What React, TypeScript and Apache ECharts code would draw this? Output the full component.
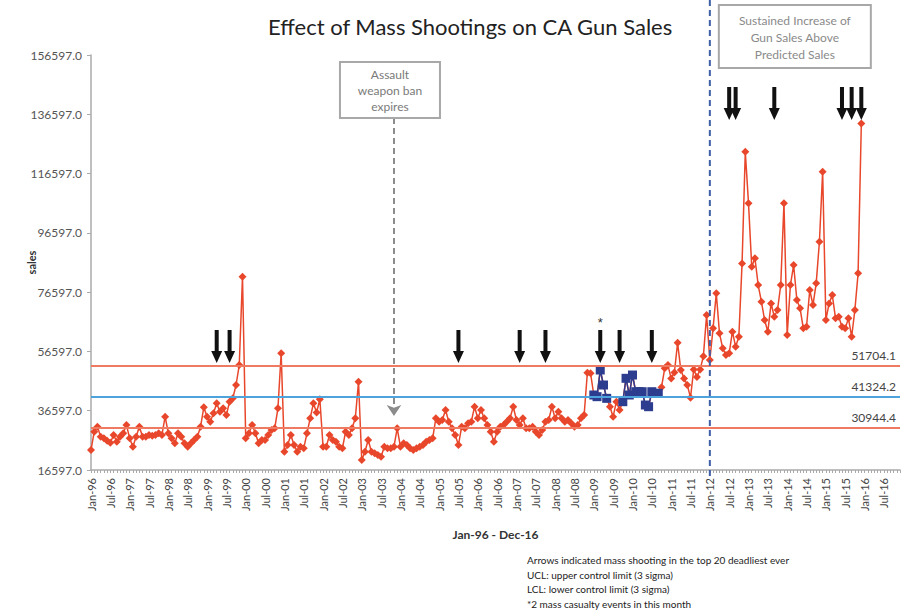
import React, { useEffect, useRef } from "react";
import * as echarts from "echarts";

// ---------- data ----------
const monthNames = ["Jan", "Feb", "Mar", "Apr", "May", "Jun", "Jul", "Aug", "Sep", "Oct", "Nov", "Dec"];
const years = [96, 97, 98, 99, 0, 1, 2, 3, 4, 5, 6, 7, 8, 9, 10, 11, 12, 13, 14, 15, 16];
const categories: string[] = [];
years.forEach((y) => monthNames.forEach((m) => categories.push(`${m}-${String(y).padStart(2, "0")}`)));

const sales1996 = [23340, 29520, 31210, 27830, 27270, 26490, 25810, 28400, 26150, 27830, 28960, 31780];
const sales1997 = [27270, 24460, 27830, 31210, 27830, 27830, 28400, 28170, 28400, 28960, 28400, 34590];
const sales1998 = [28960, 27270, 25590, 28960, 27830, 25590, 24460, 25590, 26720, 27830, 31210, 37740];
const sales1999 = [34590, 32900, 35710, 39080, 36270, 37410, 35150, 39650, 40770, 45270, 52010, 81800];
const sales2000 = [27270, 28960, 31780, 28960, 25590, 26720, 26720, 28400, 30090, 30650, 37410, 55950];
const sales2001 = [22780, 25030, 28400, 25030, 22780, 24460, 23900, 28960, 34030, 39080, 36000, 40500];
const sales2002 = [24460, 24460, 28400, 26720, 26150, 24460, 23900, 29520, 28400, 30650, 34030, 46380];
const sales2003 = [19970, 22780, 26720, 22780, 22220, 21660, 21100, 24460, 23900, 23900, 24460, 30650];
const sales2004 = [24460, 25600, 25000, 23900, 23340, 23900, 24460, 25000, 26150, 26720, 27280, 34030];
const sales2005 = [32890, 33460, 36830, 32890, 30660, 28400, 25000, 31200, 30660, 32340, 32890, 37950];
const sales2006 = [34030, 36830, 34030, 31780, 29520, 26150, 29520, 31200, 31780, 32890, 34030, 37950];
const sales2007 = [33460, 31780, 34030, 30660, 30660, 31200, 29520, 28400, 30090, 32890, 33460, 37950];
const sales2008 = [34030, 36270, 34030, 32890, 33460, 32340, 31200, 31780, 34030, 35150, 49420, 49200];
const sales2009 = [41900, 41330, 50330, 45270, 40770, 37950, 34590, 39640, 36830, 39640, 47530, 41900];
const sales2010 = [48640, 43010, 43010, 43010, 38520, 37950, 43010, 42460, 42460, 44500, 50900, 52000];
const sales2011 = [47500, 49500, 59500, 50300, 47500, 45300, 41000, 50500, 48000, 50500, 55000, 68900];
const sales2012 = [53700, 64380, 76200, 62700, 57630, 55390, 55950, 63250, 58190, 61560, 86300, 123960];
const sales2013 = [106550, 85170, 88000, 79000, 73370, 67190, 63250, 72800, 68300, 70570, 79000, 106550];
const sales2014 = [62130, 79000, 85740, 73940, 71130, 64380, 64940, 77310, 72250, 79570, 93600, 117220];
const sales2015 = [67190, 72800, 75620, 67750, 68300, 64940, 64380, 67750, 61560, 70570, 82950, 133500];

const sales = [
  ...sales1996, ...sales1997, ...sales1998, ...sales1999, ...sales2000, ...sales2001, ...sales2002,
  ...sales2003, ...sales2004, ...sales2005, ...sales2006, ...sales2007, ...sales2008, ...sales2009,
  ...sales2010, ...sales2011, ...sales2012, ...sales2013, ...sales2014, ...sales2015,
];

// months drawn as blue squares
const blueMonths = [
  "Jan-09", "Feb-09", "Mar-09", "Apr-09", "May-09",
  "Oct-09", "Nov-09", "Dec-09", "Jan-10", "Feb-10", "Mar-10", "Apr-10", "May-10", "Jun-10", "Jul-10", "Aug-10", "Sep-10",
];

const UCL = 51704.1;
const CL = 41324.2;
const LCL = 30944.4;

const yTicks = { min: 16597, max: 156597, step: 20000 };

// arrows: mass shootings
const lowArrowMonths = ["Apr-99", "Aug-99", "Jul-05", "Feb-07", "Oct-07", "Mar-09", "Sep-09", "Jul-10"];
const highArrowMonths = ["Jul-12", "Sep-12", "Sep-13", "Jun-15", "Sep-15", "Dec-15"];
const lowArrowTip = 52700;
const highArrowTip = 134650;
const starMonth = "Mar-09";

const awbMonth = "Nov-03";
const awbArrowTop = 135330;
const awbArrowTip = 34800;
const sustainedMonth = "Jan-12";

const footnotes = [
  "Arrows indicated mass shooting in the top 20 deadliest ever",
  "UCL: upper control limit (3 sigma)",
  "LCL: lower control limit (3 sigma)",
  "*2 mass casualty events in this month",
];

// ---------- styles ----------
const RED = "#E8472B";
const LIMIT_RED = "#EF7A62";
const CL_BLUE = "#4DA3DC";
const SQ_BLUE = "#2C3C8E";
const FONT = "Lato, 'Open Sans', sans-serif";
const ARROW = "path://M3.5,0 L7.5,0 L7.5,21 L11,21 L5.5,33 L0,21 L3.5,21 Z";

export default function App() {
  const ref = useRef<HTMLDivElement>(null);

  useEffect(() => {
    if (!ref.current) return;
    const chart = echarts.init(ref.current, null, { renderer: "svg" });

    const blueIdx = new Set(blueMonths.map((m) => categories.indexOf(m)));
    const redData = sales.map((v, i) => (blueIdx.has(i) ? { value: v, symbol: "none" } : v));
    const blueData = sales.map((v, i) => (blueIdx.has(i) ? v : null));

    const arrowPoint = (m: string, tip: number) => ({
      coord: [m, tip],
      symbol: ARROW,
      symbolSize: [11, 33],
      symbolOffset: [0, "-50%"],
      itemStyle: { color: "#111" },
      label:
        m === starMonth && tip === lowArrowTip
          ? { show: true, position: "top", formatter: "*", color: "#333", fontSize: 13, distance: 1 }
          : { show: false },
    });

    const limitLine = (value: number, name: string, color: string) => [
      {
        yAxis: value,
        lineStyle: { color, width: 2, type: "solid" },
        label: {
          show: true,
          position: "insideEndTop",
          formatter: value.toFixed(1),
          color: "#444",
          fontSize: 12,
          fontFamily: FONT,
          distance: 4,
        },
      },
      {
        yAxis: value,
        lineStyle: { color, width: 0, opacity: 0 },
        label: {
          show: true,
          position: "insideStartTop",
          formatter: name,
          color: "#333",
          fontSize: 12,
          fontFamily: FONT,
          distance: 4,
        },
      },
    ];

    chart.setOption({
      animation: false,
      backgroundColor: "#fff",
      title: {
        text: "Effect of Mass Shootings on CA Gun Sales",
        left: 263,
        top: 10,
        textStyle: { fontSize: 22, fontWeight: "normal", color: "#222", fontFamily: FONT },
      },
      grid: { left: 91, right: 3, top: 55, bottom: 146, containLabel: false },
      xAxis: {
        type: "category",
        data: categories,
        boundaryGap: false,
        name: "Jan-96 - Dec-16",
        nameLocation: "middle",
        nameGap: 58,
        nameTextStyle: { fontWeight: "bold", fontSize: 12, color: "#333", fontFamily: FONT },
        axisLine: { lineStyle: { color: "#aaa", width: 1.5 } },
        axisTick: { show: true, interval: 0, length: 3, lineStyle: { color: "#aaa" } },
        axisLabel: { interval: 5, rotate: 90, fontSize: 11, color: "#444", fontFamily: FONT, margin: 8 },
        splitLine: { show: false },
      },
      yAxis: {
        type: "value",
        min: yTicks.min,
        max: yTicks.max,
        interval: yTicks.step,
        name: "sales",
        nameLocation: "middle",
        nameGap: 54,
        nameMoveOverlap: false,
        nameRotate: 90,
        nameTextStyle: { fontWeight: "bold", fontSize: 11, color: "#333", fontFamily: FONT },
        axisLine: { show: true, lineStyle: { color: "#aaa", width: 1.5 } },
        axisTick: { show: true, length: 4, lineStyle: { color: "#aaa" } },
        axisLabel: {
          formatter: (v: number) => v.toFixed(1),
          fontSize: 12,
          color: "#555",
          fontFamily: FONT,
          margin: 9,
        },
        splitLine: { show: false },
      },
      series: [
        {
          type: "line",
          name: "limits",
          data: [],
          silent: true,
          markLine: {
            silent: true,
            symbol: "none",
            data: [
              ...limitLine(UCL, "UCL", LIMIT_RED),
              ...limitLine(CL, "CL", CL_BLUE),
              ...limitLine(LCL, "LCL", LIMIT_RED),
            ],
          },
          z: 1,
        },
        {
          type: "line",
          name: "awb",
          data: [],
          silent: true,
          markLine: {
            silent: true,
            symbol: ["none", "arrow"],
            symbolSize: 11,
            label: { show: false },
            lineStyle: { color: "#8c8c8c", width: 2, type: [6, 4] },
            data: [[{ coord: [awbMonth, awbArrowTop] }, { coord: [awbMonth, awbArrowTip] }]],
          },
          z: 1,
        },
        {
          type: "line",
          name: "sales",
          data: redData,
          showAllSymbol: true,
          symbol: "diamond",
          symbolSize: 8,
          itemStyle: { color: RED },
          lineStyle: { color: RED, width: 1.5 },
          z: 3,
          markPoint: {
            silent: true,
            data: [
              ...lowArrowMonths.map((m) => arrowPoint(m, lowArrowTip)),
              ...highArrowMonths.map((m) => arrowPoint(m, highArrowTip)),
            ],
          },
        },
        {
          type: "line",
          name: "sales-blue",
          data: blueData,
          showAllSymbol: true,
          connectNulls: false,
          symbol: "rect",
          symbolSize: 9,
          itemStyle: { color: SQ_BLUE },
          lineStyle: { color: SQ_BLUE, width: 1.5 },
          z: 4,
        },
      ],
    });

    const toX = (m: string) => {
      let x = chart.convertToPixel({ xAxisIndex: 0 }, m) as unknown as number;
      if (typeof x !== "number" || isNaN(x)) x = chart.convertToPixel({ xAxisIndex: 0 }, categories.indexOf(m)) as unknown as number;
      return x;
    };
    const x12 = toX(sustainedMonth);
    const xAwb = toX(awbMonth);
    const yBottom = chart.convertToPixel({ yAxisIndex: 0 }, yTicks.min) as unknown as number;

    chart.setOption({
      graphic: [
        {
          type: "line",
          shape: { x1: x12, y1: 0, x2: x12, y2: yBottom + 8 },
          style: { stroke: "#3F5EA8", lineWidth: 2, lineDash: [6, 4] },
          z: 10,
        },
        {
          type: "rect",
          shape: { x: x12 + 9, y: 5, width: 152, height: 63 },
          style: { fill: "#fff", stroke: "#a8a8a8", lineWidth: 2 },
          z: 10,
        },
        {
          type: "text",
          x: x12 + 85,
          y: 12,
          style: {
            text: "Sustained Increase of\nGun Sales Above\nPredicted Sales",
            fill: "#8a8a8a",
            fontSize: 12,
            fontFamily: FONT,
            lineHeight: 17,
            align: "center",
            textAlign: "center",
          },
          z: 11,
        },
        {
          type: "rect",
          shape: { x: xAwb - 54, y: 62, width: 100, height: 56 },
          style: { fill: "#fff", stroke: "#a8a8a8", lineWidth: 2 },
          z: 10,
        },
        {
          type: "text",
          x: xAwb - 4,
          y: 66,
          style: {
            text: "Assault\nweapon ban\nexpires",
            fill: "#7a7a7a",
            fontSize: 12,
            fontFamily: FONT,
            lineHeight: 16,
            align: "center",
            textAlign: "center",
          },
          z: 11,
        },
        {
          type: "text",
          x: 527,
          y: 553,
          style: {
            text: footnotes.join("\n"),
            fill: "#222",
            fontSize: 10,
            fontFamily: FONT,
            lineHeight: 14.5,
          },
          z: 11,
        },
      ],
    });

    return () => chart.dispose();
  }, []);

  return <div ref={ref} style={{ position: "absolute", left: 0, top: 0, width: 903, height: 616 }} />;
}
